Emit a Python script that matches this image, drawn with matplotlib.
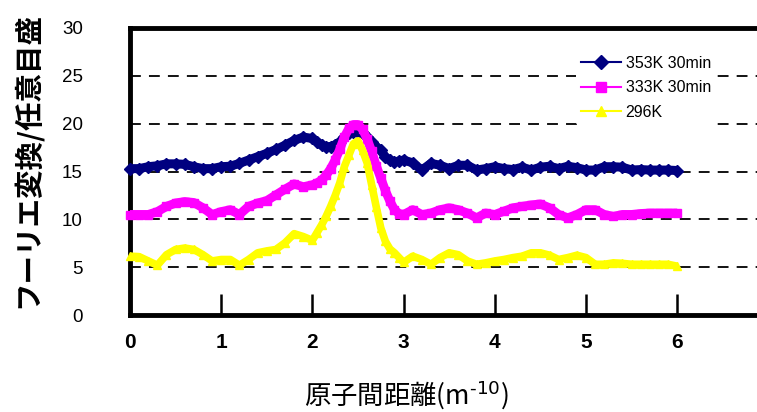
import matplotlib
matplotlib.use("Agg")
import matplotlib.pyplot as plt
from matplotlib.lines import Line2D

# data
distance = [0.0, 0.1, 0.2, 0.3, 0.4, 0.5, 0.6, 0.7, 0.8, 0.9,
            1.0, 1.1, 1.2, 1.3, 1.4, 1.5, 1.6, 1.7, 1.8, 1.9,
            2.0, 2.05, 2.1, 2.15, 2.2, 2.25, 2.3, 2.35, 2.4, 2.45,
            2.5, 2.55, 2.6, 2.65, 2.7, 2.75, 2.8, 2.85, 2.9, 2.95,
            3.0, 3.1, 3.2, 3.3, 3.4, 3.5, 3.6, 3.7, 3.8, 3.9,
            4.0, 4.1, 4.2, 4.3, 4.4, 4.5, 4.6, 4.7, 4.8, 4.9,
            5.0, 5.1, 5.2, 5.3, 5.4, 5.5, 5.6, 5.7, 5.8, 5.9, 6.0]

k353 = [15.3, 15.3, 15.5, 15.6, 15.8, 15.8, 15.75, 15.5, 15.3, 15.3,
        15.5, 15.55, 15.85, 16.2, 16.55, 16.9, 17.3, 17.75, 18.25, 18.6,
        18.45, 18.1, 17.75, 17.6, 17.6, 17.8, 18.1, 18.6, 19.0, 19.1,
        19.1, 19.0, 18.6, 18.1, 17.6, 17.2, 16.5, 16.2, 16.0, 16.1,
        16.2, 15.9, 15.15, 15.85, 15.65, 15.3, 15.65, 15.65, 15.15, 15.3,
        15.5, 15.3, 15.2, 15.45, 15.15, 15.45, 15.55, 15.3, 15.55, 15.4,
        15.15, 15.15, 15.5, 15.5, 15.45, 15.15, 15.2, 15.15, 15.15, 15.15, 15.1]

k333 = [10.5, 10.5, 10.5, 10.8, 11.35, 11.7, 11.85, 11.75, 11.2, 10.5,
        10.8, 11.0, 10.5, 11.35, 11.7, 11.95, 12.55, 13.15, 13.7, 13.4,
        13.6, 13.8, 14.1, 14.6, 15.3, 16.2, 17.3, 18.6, 19.5, 19.9,
        19.9, 19.4, 18.4, 17.1, 15.6, 14.3, 13.0, 11.9, 11.0, 10.6,
        10.5, 11.0, 10.5, 10.65, 11.0, 11.2, 11.0, 10.65, 10.15, 10.65,
        10.5, 10.85, 11.2, 11.35, 11.5, 11.6, 11.2, 10.5, 10.15, 10.5,
        11.0, 11.0, 10.5, 10.3, 10.5, 10.5, 10.6, 10.65, 10.65, 10.65, 10.65]

k296 = [6.15, 6.1, 5.65, 5.2, 6.3, 6.85, 7.0, 6.85, 6.3, 5.65,
        5.8, 5.8, 5.2, 5.8, 6.5, 6.7, 6.85, 7.55, 8.5, 8.2,
        7.8, 8.6, 9.4, 10.3, 11.35, 12.5, 13.8, 15.5, 16.7, 17.9,
        18.2, 17.2, 15.9, 13.6, 11.3, 9.1, 7.7, 6.9, 6.5, 6.0,
        5.5, 6.15, 5.8, 5.3, 6.0, 6.5, 6.3, 5.65, 5.3, 5.45,
        5.65, 5.8, 6.0, 6.15, 6.5, 6.5, 6.25, 5.8, 6.0, 6.25,
        6.0, 5.3, 5.3, 5.45, 5.4, 5.3, 5.3, 5.3, 5.3, 5.3, 5.1]

labels = ['353K 30min', '333K 30min', '296K']
colors = ['#000080', '#FF00FF', '#FFFF00']
markers = ['D', 's', '^']
xticks = [0, 1, 2, 3, 4, 5, 6]
yticks = [0, 5, 10, 15, 20, 25, 30]

W, H = 757, 412
fig = plt.figure(figsize=(W / 100, H / 100), dpi=100)
# axes runs off the right edge like the original
ax = fig.add_axes([130 / W, 1 - 315 / H, 650 / W, 287 / H])

for ys, c, m, lw in zip([k353, k333, k296], colors, markers, [6.5, 6.5, 5.5]):
    ax.plot(distance, ys, color=c, lw=lw, marker=m, ms=6, mec=c, mfc=c,
            solid_capstyle='butt', solid_joinstyle='round', clip_on=False, zorder=3)

for g in yticks[1:-1]:
    ax.axhline(g, color='black', lw=1.3, ls=(0, (6, 4.5)), zorder=1)

ax.set_xlim(0, 650 / 91.2)
ax.set_ylim(0, 30)
ax.set_xticks(xticks)
ax.set_yticks(yticks)
for s in ['left', 'top', 'bottom']:
    ax.spines[s].set_linewidth(3.5)
ax.spines['right'].set_visible(False)

ax.tick_params(axis='x', direction='in', length=15, width=1.8, pad=13)
ax.tick_params(axis='y', length=0, pad=34)
for t in ax.get_yticklabels():
    t.set_fontfamily(['Liberation Sans', 'DejaVu Sans'])
    t.set_fontsize(13.5)
for t in ax.get_xticklabels():
    t.set_fontfamily(['Liberation Sans', 'DejaVu Sans'])
    t.set_fontweight('bold')
    t.set_fontsize(15)

fig.text(27 / W, 1 - 160 / H, 'フーリエ変換/任意目盛', rotation=90,
         ha='center', va='center', fontsize=20.5, fontweight='bold',
         family=['Noto Sans CJK JP', 'DejaVu Sans'])
fig.text(406 / W, 1 - 395 / H, '原子間距離(m$^{\\text{-10}}$)',
         ha='center', va='center', fontsize=19,
         family=['Noto Sans CJK JP', 'DejaVu Sans'])

handles = [Line2D([], [], color=c, lw=1.5, marker=m, ms=7, mec=c, mfc=c)
           for c, m in zip(colors, markers)]
leg = fig.legend(handles, labels, loc='upper left',
                 bbox_to_anchor=(576 / W, 1 - 51 / H), frameon=True,
                 facecolor='white', edgecolor='none', framealpha=1,
                 prop={'family': ['Liberation Sans', 'DejaVu Sans'], 'size': 11.5},
                 handlelength=2.5, handletextpad=0.3, labelspacing=0.6,
                 borderpad=0.3, borderaxespad=0)
leg.set_zorder(5)

fig.savefig('out.png', dpi=100)
